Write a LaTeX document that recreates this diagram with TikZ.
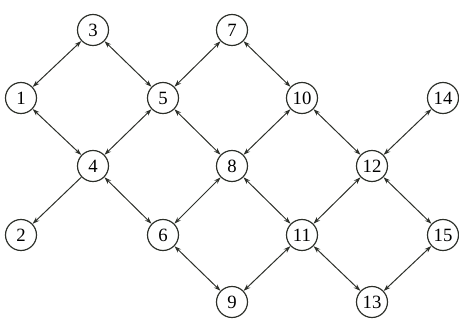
\documentclass[tikz,border=0pt]{standalone}
\usepackage{fontspec}
\setmainfont{Liberation Serif}
\usepackage{tikz}
\usetikzlibrary{arrows.meta, positioning}
\definecolor{mydark}{RGB}{45,48,42}
\tikzset{
  vertex/.style={circle, draw=mydark, fill=white, minimum size=0.93cm,
    inner sep=0pt, line width=1pt, font=\fontsize{16}{16}\selectfont},
  arrow/.style={-{Stealth[length=6pt,width=4pt]}, line width=0.85pt, color=mydark},
  biarrow/.style={{Stealth[length=6pt,width=4pt]}-{Stealth[length=6pt,width=4pt]},
    line width=0.85pt, color=mydark}
}
\begin{document}
\begin{tikzpicture}
  \useasboundingbox (0,0) rectangle (13.77,9.69);
  % Top row
  \node (n3) at (2.79,8.79) [vertex] {3};
  \node (n7) at (6.96,8.79) [vertex] {7};
  % Second row
  \node (n1) at (0.63,6.75) [vertex] {1};
  \node (n5) at (4.89,6.75) [vertex] {5};
  \node (n10) at (9.06,6.75) [vertex] {10};
  \node (n14) at (13.29,6.75) [vertex] {14};
  % Middle row
  \node (n4) at (2.79,4.71) [vertex] {4};
  \node (n8) at (6.96,4.71) [vertex] {8};
  \node (n12) at (11.16,4.71) [vertex] {12};
  % Fourth row
  \node (n2) at (0.63,2.64) [vertex] {2};
  \node (n6) at (4.89,2.64) [vertex] {6};
  \node (n11) at (9.06,2.64) [vertex] {11};
  \node (n15) at (13.29,2.64) [vertex] {15};
  % Bottom row
  \node (n9) at (6.96,0.63) [vertex] {9};
  \node (n13) at (11.16,0.63) [vertex] {13};
  % Edges
  \draw[biarrow] (n1) -- (n3);
  \draw[biarrow] (n3) -- (n5);
  \draw[biarrow] (n1) -- (n4);
  \draw[biarrow] (n4) -- (n5);
  \draw[arrow] (n4) -- (n2);
  \draw[biarrow] (n5) -- (n7);
  \draw[biarrow] (n5) -- (n8);
  \draw[biarrow] (n7) -- (n10);
  \draw[biarrow] (n8) -- (n10);
  \draw[biarrow] (n10) -- (n12);
  \draw[biarrow] (n12) -- (n14);
  \draw[biarrow] (n4) -- (n6);
  \draw[biarrow] (n6) -- (n8);
  \draw[biarrow] (n8) -- (n11);
  \draw[biarrow] (n11) -- (n12);
  \draw[biarrow] (n12) -- (n15);
  \draw[biarrow] (n6) -- (n9);
  \draw[biarrow] (n9) -- (n11);
  \draw[biarrow] (n11) -- (n13);
  \draw[biarrow] (n13) -- (n15);
\end{tikzpicture}
\end{document}
